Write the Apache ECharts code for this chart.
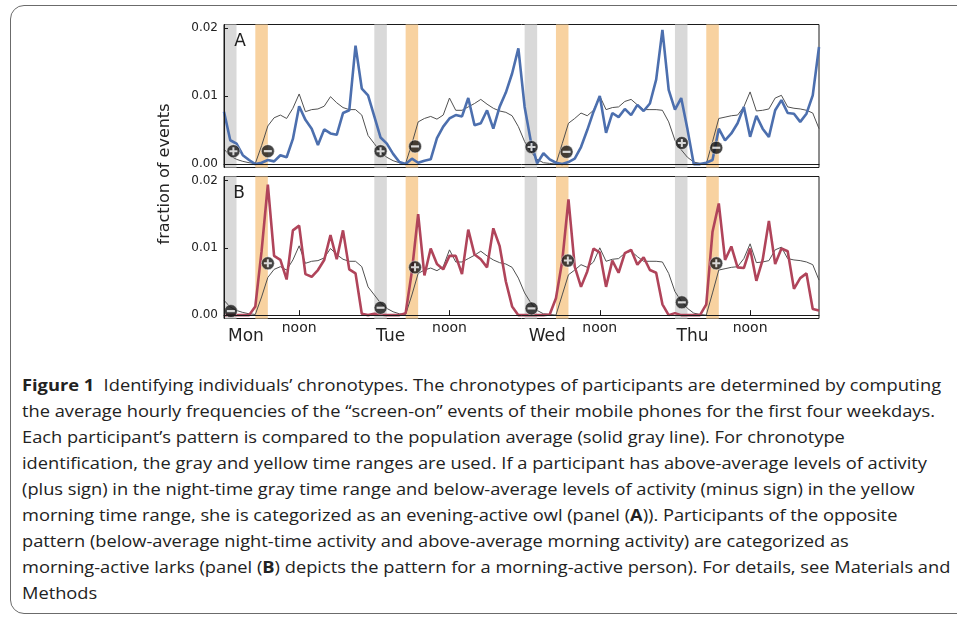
<!DOCTYPE html>
<html>
<head>
<meta charset="utf-8">
<script src="https://cdn.jsdelivr.net/npm/echarts@6/dist/echarts.min.js"></script>
<style>
  html, body { margin: 0; padding: 0; background: #fff; width: 957px; height: 617px; overflow: hidden; }
  #frame { position: absolute; left: 10px; top: 5px; width: 1000px; height: 609px; border: 1.5px solid #6b6b6b; border-radius: 14px; box-sizing: border-box; }
  #chart { position: absolute; left: 0; top: 0; width: 957px; height: 360px; }
  #caption { position: absolute; left: 22px; top: 372px; font-family: "Open Sans", "Noto Sans", sans-serif; font-size: 16.5px; line-height: 26px; color: #222; white-space: nowrap; transform-origin: 0 0; }
  #caption div { white-space: nowrap; }
</style>
</head>
<body>
<div id="frame"></div>
<div id="chart"></div>
<div id="caption">
  <div><b>Figure 1</b>&nbsp; Identifying individuals’ chronotypes. The chronotypes of participants are determined by computing</div>
  <div>the average hourly frequencies of the “screen-on” events of their mobile phones for the first four weekdays.</div>
  <div>Each participant’s pattern is compared to the population average (solid gray line). For chronotype</div>
  <div>identification, the gray and yellow time ranges are used. If a participant has above-average levels of activity</div>
  <div>(plus sign) in the night-time gray time range and below-average levels of activity (minus sign) in the yellow</div>
  <div>morning time range, she is categorized as an evening-active owl (panel (<b>A</b>)). Participants of the opposite</div>
  <div>pattern (below-average night-time activity and above-average morning activity) are categorized as</div>
  <div>morning-active larks (panel (<b>B</b>) depicts the pattern for a morning-active person). For details, see Materials and</div>
  <div>Methods</div>
</div>
<script>
// ---- data (hour index 0..95 = Mon 00:00 .. Thu 23:00) ----
const populationAvg = [
  0.0022,0.0012,0.0007,0.0004,0.0002,0.0001,0.0027,0.0056,0.0068,0.0072,0.0067,0.0082,
  0.0103,0.0077,0.0080,0.0081,0.0085,0.0099,0.0090,0.0083,0.0080,0.0080,0.0072,0.0042,
  0.0030,0.0018,0.0010,0.0005,0.0002,0.0001,0.0030,0.0062,0.0067,0.0070,0.0066,0.0072,
  0.0097,0.0079,0.0079,0.0084,0.0089,0.0095,0.0088,0.0082,0.0078,0.0076,0.0071,0.0055,
  0.0033,0.0018,0.0007,0.0002,0.0001,0.0000,0.0030,0.0060,0.0067,0.0075,0.0071,0.0079,
  0.0100,0.0080,0.0083,0.0084,0.0092,0.0095,0.0087,0.0080,0.0080,0.0080,0.0079,0.0062,
  0.0035,0.0021,0.0010,0.0003,0.0001,0.0000,0.0033,0.0067,0.0069,0.0071,0.0072,0.0084,
  0.0106,0.0078,0.0079,0.0081,0.0097,0.0101,0.0084,0.0082,0.0081,0.0079,0.0075,0.0052
];
const owlActivity = [
  0.0077,0.0035,0.0030,0.0013,0.0006,0.0000,0.0002,0.0006,0.0004,0.0013,0.0010,0.0037,
  0.0085,0.0065,0.0052,0.0028,0.0051,0.0045,0.0043,0.0075,0.0079,0.0174,0.0111,0.0101,
  0.0070,0.0039,0.0030,0.0015,0.0003,0.0000,0.0008,0.0002,0.0005,0.0007,0.0038,0.0055,
  0.0067,0.0072,0.0070,0.0097,0.0057,0.0060,0.0079,0.0052,0.0084,0.0105,0.0133,0.0170,
  0.0084,0.0033,0.0001,0.0016,0.0007,0.0002,0.0000,0.0003,0.0008,0.0025,0.0050,0.0077,
  0.0100,0.0046,0.0075,0.0069,0.0081,0.0072,0.0087,0.0078,0.0089,0.0124,0.0197,0.0109,
  0.0080,0.0097,0.0051,0.0000,0.0000,0.0002,0.0006,0.0052,0.0035,0.0045,0.0060,0.0084,
  0.0040,0.0071,0.0052,0.0040,0.0079,0.0094,0.0075,0.0074,0.0062,0.0074,0.0101,0.0172
];
const larkActivity = [
  0.0000,0.0000,0.0000,0.0000,0.0000,0.0013,0.0095,0.0194,0.0088,0.0082,0.0053,0.0126,
  0.0133,0.0061,0.0057,0.0067,0.0082,0.0119,0.0083,0.0126,0.0068,0.0062,0.0002,0.0000,
  0.0002,0.0001,0.0000,0.0000,0.0000,0.0003,0.0065,0.0150,0.0059,0.0099,0.0076,0.0068,
  0.0088,0.0088,0.0061,0.0127,0.0090,0.0083,0.0071,0.0129,0.0103,0.0050,0.0013,0.0000,
  0.0000,0.0000,0.0000,0.0000,0.0001,0.0025,0.0080,0.0172,0.0072,0.0042,0.0065,0.0099,
  0.0093,0.0042,0.0081,0.0063,0.0092,0.0097,0.0075,0.0086,0.0067,0.0063,0.0016,0.0000,
  0.0003,0.0000,0.0000,0.0000,0.0000,0.0016,0.0124,0.0166,0.0082,0.0102,0.0071,0.0070,
  0.0099,0.0051,0.0082,0.0140,0.0076,0.0099,0.0095,0.0039,0.0055,0.0062,0.0009,0.0007
];
// time ranges (hours): night-time gray, morning yellow
const nightRanges   = [[0, 2], [24, 26], [48, 50], [72, 74]];
const morningRanges = [[5, 7], [29, 31], [53, 55], [77, 79]];
// plus / minus sign markers [hour, value]
const owlPlus   = [[1.5, 0.0019], [25.0, 0.0019], [49.1, 0.0025], [73.1, 0.0031]];
const owlMinus  = [[7.0, 0.0019], [30.5, 0.0026], [54.7, 0.0018], [78.6, 0.0024]];
const larkPlus  = [[7.0, 0.0077], [30.5, 0.0071], [54.9, 0.0081], [78.6, 0.0077]];
const larkMinus = [[1.1, 0.0006], [25.0, 0.0011], [49.1, 0.0010], [73.1, 0.0019]];
// tick labels
const yTicks = [0, 0.01, 0.02];
const noonHours = [12, 36, 60, 84];
const dayNames = ['Mon', 'Tue', 'Wed', 'Thu'];
const dayLabelHours = [3.5, 26.6, 51.6, 74.8];
const panelNames = ['A', 'B'];

// ---- chart ----
const toXY = arr => arr.map((v, i) => [i, v]);
const GRAY_BAND = '#d9d9d9', YELLOW_BAND = '#f8d2a0';
const BLUE = '#4c6fae', RED = '#b0445a', AVG = '#505050';
const PLUS_PATH = 'path://M3,0H5V3H8V5H5V8H3V5H0V3H3Z';
const MINUS_PATH = 'path://M0,0H8V2H0Z';

function bands() {
  const d = [];
  nightRanges.forEach(r => d.push([{ xAxis: r[0], itemStyle: { color: GRAY_BAND } }, { xAxis: r[1] }]));
  morningRanges.forEach(r => d.push([{ xAxis: r[0], itemStyle: { color: YELLOW_BAND } }, { xAxis: r[1] }]));
  return d;
}
function panelSeries(idx, values, color, plus, minus) {
  return [
    { type: 'line', xAxisIndex: idx, yAxisIndex: idx, data: [], z: 1, silent: true,
      markArea: { silent: true, itemStyle: { opacity: 1 }, label: { show: false }, data: bands() } },
    { type: 'line', xAxisIndex: idx, yAxisIndex: idx, data: toXY(populationAvg), z: 2,
      showSymbol: false, lineStyle: { color: AVG, width: 1 }, itemStyle: { color: AVG } },
    { type: 'line', xAxisIndex: idx, yAxisIndex: idx, data: toXY(values), z: 3,
      showSymbol: false, lineStyle: { color: color, width: 2.6 }, itemStyle: { color: color } },
    { type: 'scatter', xAxisIndex: idx, yAxisIndex: idx, data: plus.concat(minus), z: 4,
      symbol: 'circle', symbolSize: 13, itemStyle: { color: '#161616', borderColor: '#fff', borderWidth: 0.6 } },
    { type: 'scatter', xAxisIndex: idx, yAxisIndex: idx, data: plus, z: 5,
      symbol: PLUS_PATH, symbolSize: 8, itemStyle: { color: '#fff' } },
    { type: 'scatter', xAxisIndex: idx, yAxisIndex: idx, data: minus, z: 5,
      symbol: MINUS_PATH, symbolSize: [8, 2.2], itemStyle: { color: '#fff' } }
  ];
}
const axisLineStyle = { show: true, lineStyle: { color: '#1a1a1a', width: 1 } };
function yAxis(idx, max) {
  return {
    type: 'value', gridIndex: idx, min: -0.0005, max: max, z: 10,
    axisLine: axisLineStyle, splitLine: { show: false },
    axisTick: { show: true, inside: true, length: 4, customValues: yTicks, lineStyle: { color: '#1a1a1a' } },
    axisLabel: { customValues: yTicks, formatter: v => v.toFixed(2), fontFamily: 'DejaVu Sans', fontSize: 12, color: '#222', margin: 6 }
  };
}

const chart = echarts.init(document.getElementById('chart'), null, { renderer: 'canvas' });
chart.setOption({
  animation: false,
  backgroundColor: 'transparent',
  grid: [
    { left: 224, top: 24.5, width: 595, height: 143, show: true, borderColor: '#1a1a1a', borderWidth: 1, backgroundColor: 'transparent' },
    { left: 224, top: 176.5, width: 595, height: 142, show: true, borderColor: '#1a1a1a', borderWidth: 1, backgroundColor: 'transparent' }
  ],
  xAxis: [
    { type: 'value', gridIndex: 0, min: 0, max: 95, z: 10, axisLine: axisLineStyle,
      axisTick: { show: false }, axisLabel: { show: false }, splitLine: { show: false } },
    { type: 'value', gridIndex: 1, min: 0, max: 95, z: 10, axisLine: axisLineStyle, splitLine: { show: false },
      axisTick: { show: true, inside: true, length: 5, customValues: noonHours, lineStyle: { color: '#1a1a1a' } },
      axisLabel: { customValues: noonHours, formatter: () => 'noon', fontFamily: 'DejaVu Sans', fontSize: 14, color: '#222', margin: 3 } },
    { type: 'value', gridIndex: 1, min: 0, max: 95, position: 'bottom', axisLine: { show: false },
      axisTick: { show: false }, splitLine: { show: false },
      axisLabel: { customValues: dayLabelHours, formatter: v => dayNames[dayLabelHours.indexOf(v)] || '',
        fontFamily: 'DejaVu Sans', fontSize: 17, color: '#222', margin: 10 } }
  ],
  yAxis: [ yAxis(0, 0.0205), yAxis(1, 0.0206) ],
  graphic: [
    { type: 'text', x: 165, y: 174, rotation: Math.PI / 2,
      style: { text: 'fraction of events', font: '16px "DejaVu Sans"', fill: '#222', textAlign: 'center', textVerticalAlign: 'middle' } },
    { type: 'text', x: 240, y: 42, z: 20,
      style: { text: panelNames[0], font: '17px "DejaVu Sans"', fill: '#222', textAlign: 'center', textVerticalAlign: 'middle' } },
    { type: 'text', x: 239, y: 194, z: 20,
      style: { text: panelNames[1], font: '17px "DejaVu Sans"', fill: '#222', textAlign: 'center', textVerticalAlign: 'middle' } }
  ],
  series: [].concat(
    panelSeries(0, owlActivity, BLUE, owlPlus, owlMinus),
    panelSeries(1, larkActivity, RED, larkPlus, larkMinus)
  )
});

// fit caption line width to the reference (first line spans ~928px)
(function () {
  const cap = document.getElementById('caption');
  const first = cap.children[0];
  const w = first.scrollWidth;
  if (w > 0) {
    const s = 928 / w;
    cap.style.transform = 'scaleX(' + s.toFixed(4) + ')';
  }
})();
</script>
</body>
</html>
